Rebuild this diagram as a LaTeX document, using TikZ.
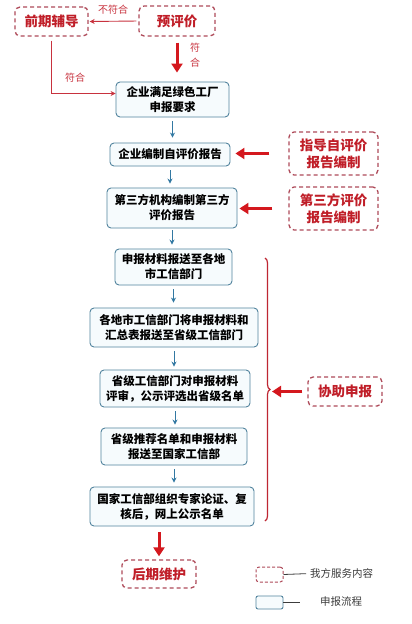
\documentclass[tikz,border=0pt]{standalone}
\usepackage{fontspec}
\setmainfont{Noto Sans CJK SC}
\usetikzlibrary{arrows.meta,decorations.pathreplacing,calc}
\definecolor{svcbd}{RGB}{175,75,90}
\definecolor{redtext}{RGB}{192,30,40}
\definecolor{redarrow}{RGB}{212,24,30}
\definecolor{thinred}{RGB}{200,50,62}
\definecolor{bluebd}{RGB}{82,132,158}
\definecolor{bluearr}{RGB}{50,120,162}
\definecolor{boxfill}{RGB}{246,251,253}
\definecolor{bracecol}{RGB}{190,38,50}
\definecolor{legcol}{RGB}{60,60,60}
\begin{document}
\begin{tikzpicture}[x=1pt,y=-1pt,
  flowbox/.style={draw=bluebd, fill=boxfill, rounded corners=4pt, line width=0.9pt,
    align=center, inner sep=0pt, font=\fontsize{11.5}{15}\selectfont\bfseries},
  svcbox/.style={draw=svcbd, dash pattern=on 4pt off 3pt, line width=1.3pt,
    rounded corners=5pt, text=redtext, align=center, inner sep=0pt,
    font=\fontsize{13.5}{17}\selectfont\bfseries},
  bigarrow/.style={draw=redarrow, line width=3pt, -{Triangle[length=9pt,width=11pt]}},
  thinarrow/.style={draw=thinred, line width=0.9pt, -{Stealth[length=5pt,width=5pt]}},
  bluearrow/.style={draw=bluearr, line width=0.9pt, -{Stealth[length=5pt,width=5pt]}},
  lbl/.style={text=thinred, align=center, inner sep=0pt, font=\fontsize{10}{15}\selectfont},
  legtext/.style={text=legcol, inner sep=0pt, font=\fontsize{10.5}{12}\selectfont},
  legline/.style={draw=legcol, line width=0.8pt},
  bracest/.style={draw=bracecol, line width=1.2pt, decorate, decoration={brace, amplitude=5pt}}
]
\useasboundingbox (0,0) rectangle (412,624);
\fill[white] (0,0) rectangle (412,624);

% service (dashed) boxes
\node[svcbox, minimum width=73pt, minimum height=29pt] (qq) at (51.5,21.5) {前期辅导};
\node[svcbox, minimum width=76pt, minimum height=30pt] (yp) at (177,21) {预评价};
\node[svcbox, minimum width=89pt, minimum height=43pt] (zd) at (333.5,153.5) {指导自评价\\报告编制};
\node[svcbox, minimum width=89pt, minimum height=43pt] (zs) at (333.5,208.5) {第三方评价\\报告编制};
\node[svcbox, minimum width=74pt, minimum height=29pt] (xz) at (345,391.5) {协助申报};
\node[svcbox, minimum width=74pt, minimum height=28pt] (hq) at (159,574) {后期维护};

% flow boxes
\node[flowbox, minimum width=113pt, minimum height=35pt] (b1) at (172.5,99.5) {企业满足绿色工厂\\申报要求};
\node[flowbox, minimum width=120pt, minimum height=23pt] (b2) at (170,154.5) {企业编制自评价报告};
\node[flowbox, minimum width=130pt, minimum height=40pt] (b3) at (172,208) {第三方机构编制第三方\\评价报告};
\node[flowbox, minimum width=117pt, minimum height=36pt] (b4) at (173.5,267) {申报材料报送至各地\\市工信部门};
\node[flowbox, minimum width=168pt, minimum height=39pt] (b5) at (174,327.5) {各地市工信部门将申报材料和\\汇总表报送至省级工信部门};
\node[flowbox, minimum width=150pt, minimum height=37pt] (b6) at (175,388.5) {省级工信部门对申报材料\\评审，公示评选出省级名单};
\node[flowbox, minimum width=146pt, minimum height=37pt] (b7) at (174,446.5) {省级推荐名单和申报材料\\报送至国家工信部};
\node[flowbox, minimum width=164pt, minimum height=39pt] (b8) at (172,506.5) {国家工信部组织专家论证、复\\核后，网上公示名单};

% labels
\node[lbl] (l1) at (113,10) {不符合};
\node[lbl] (l2) at (195,55) {符\\合};
\node[lbl] (l3) at (75,78) {符合};

% top connectors
\draw[thinarrow, shorten <=2pt, shorten >=1pt] (yp.west) -- (qq.east);
\draw[thinarrow] ([yshift=-4pt]qq.south) |- ([yshift=6pt]b1.west);
\coordinate (t1) at ($(yp.south |- b1.north)+(0,-9)$);
\draw[bigarrow, shorten <=6pt] (yp.south) -- (t1);

% blue flow arrows
\draw[bluearrow, shorten <=4pt, shorten >=5pt] (b1.south) -- (b1.south |- b2.north);
\draw[bluearrow, shorten <=4pt, shorten >=4pt] (b2.south) -- (b2.south |- b3.north);
\draw[bluearrow, shorten <=2pt, shorten >=4pt] (b3.south) -- (b3.south |- b4.north);
\draw[bluearrow, shorten <=4pt, shorten >=5pt] (b4.south) -- (b4.south |- b5.north);
\draw[bluearrow, shorten <=4pt, shorten >=3pt] (b5.south) -- (b5.south |- b6.north);
\draw[bluearrow, shorten <=4pt, shorten >=3pt] (b6.south) -- (b6.south |- b7.north);
\draw[bluearrow, shorten <=4pt, shorten >=4pt] (b7.south) -- (b7.south |- b8.north);

% service arrows
\draw[bigarrow, shorten <=19pt, shorten >=5pt] (zd.west) -- (zd.west -| b2.east);
\draw[bigarrow, shorten <=16pt, shorten >=2pt] (zs.west) -- (zs.west -| b3.east);

% brace
\coordinate (bra) at (265,258);
\coordinate (brb) at (265,521);
\draw[bracest] (bra) -- (brb);
\coordinate (bt) at (272,391.5);
\draw[bigarrow, shorten <=5pt] (xz.west) -- (bt);

\draw[bigarrow, shorten <=6pt, shorten >=3pt] (hq.north |- b8.south) -- (hq.north);

% legend
\node[svcbox, minimum width=27pt, minimum height=15pt, line width=1pt, dash pattern=on 3pt off 2pt, rounded corners=3pt] (lg1) at (269.5,574.5) {};
\node[legtext, anchor=west] (lt1) at (310,573.5) {我方服务内容};
\draw[legline, shorten >=4pt] (lg1.east) -- (lt1.west);
\node[flowbox, minimum width=27pt, minimum height=13pt, rounded corners=2pt] (lg2) at (269.5,602.5) {};
\node[legtext] (lt2) at (341,601.5) {申报流程};
\draw[legline, shorten >=20pt] (lg2.east) -- (lg2.east -| lt2.west);
\end{tikzpicture}
\end{document}
